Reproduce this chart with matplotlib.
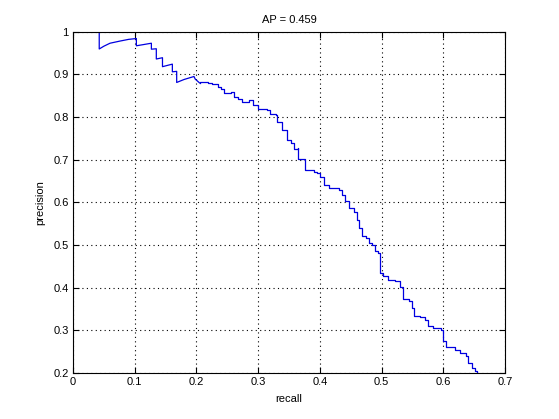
import matplotlib
matplotlib.use("Agg")
import matplotlib.pyplot as plt

recall = [0.0425, 0.0425, 0.050, 0.060, 0.076, 0.090, 0.1027, 0.1027, 0.115, 0.127, 0.127, 0.135, 0.135,
          0.145, 0.145, 0.161, 0.161, 0.168, 0.168, 0.180, 0.196, 0.198, 0.198, 0.205, 0.205,
          0.218, 0.226, 0.235, 0.240, 0.245, 0.256, 0.261, 0.267, 0.274, 0.285, 0.292, 0.292,
          0.299, 0.315, 0.320, 0.329, 0.331, 0.338, 0.346, 0.353, 0.358, 0.365, 0.365,
          0.374, 0.376, 0.390, 0.396, 0.401, 0.406, 0.415, 0.431, 0.436, 0.441, 0.447, 0.456,
          0.460, 0.464, 0.468, 0.474, 0.479, 0.484, 0.489, 0.494, 0.498, 0.498,
          0.503, 0.511, 0.522, 0.530, 0.534, 0.535, 0.544, 0.549, 0.553, 0.562, 0.570,
          0.576, 0.584, 0.597, 0.599, 0.605, 0.619, 0.627, 0.636, 0.640, 0.646, 0.652, 0.655]
precision = [1.000, 0.9595, 0.966, 0.973, 0.978, 0.982, 0.984, 0.967, 0.970, 0.973, 0.959, 0.960, 0.936,
             0.939, 0.918, 0.924, 0.906, 0.907, 0.881, 0.888, 0.895, 0.889, 0.889, 0.880, 0.881,
             0.879, 0.877, 0.871, 0.865, 0.856, 0.858, 0.848, 0.842, 0.836, 0.840, 0.840, 0.828,
             0.818, 0.817, 0.807, 0.805, 0.789, 0.770, 0.746, 0.739, 0.725, 0.727, 0.701,
             0.701, 0.676, 0.670, 0.668, 0.660, 0.641, 0.633, 0.629, 0.618, 0.602, 0.586, 0.578,
             0.559, 0.540, 0.520, 0.516, 0.504, 0.500, 0.485, 0.481, 0.482, 0.434,
             0.428, 0.419, 0.415, 0.401, 0.387, 0.373, 0.368, 0.352, 0.334, 0.331, 0.325,
             0.311, 0.305, 0.301, 0.274, 0.261, 0.253, 0.247, 0.239, 0.223, 0.212, 0.204, 0.200]

xticks = [0, 0.1, 0.2, 0.3, 0.4, 0.5, 0.6, 0.7]
xticklabels = ["0", "0.1", "0.2", "0.3", "0.4", "0.5", "0.6", "0.7"]
yticks = [0.2, 0.3, 0.4, 0.5, 0.6, 0.7, 0.8, 0.9, 1.0]
yticklabels = ["0.2", "0.3", "0.4", "0.5", "0.6", "0.7", "0.8", "0.9", "1"]

split = 23  # curved head, staircase tail

plt.rcParams['font.family'] = ['Liberation Sans', 'DejaVu Sans']
fig = plt.figure(figsize=(5.59, 4.19), dpi=100)
ax = fig.add_axes([73/559, 1 - 373/419, (505 - 73)/559, (373 - 31.7)/419])
ax.plot(recall[:split + 1], precision[:split + 1], color='#0000e0', linewidth=0.9)
ax.plot(recall[split:], precision[split:], color='#0000e0', linewidth=0.9, drawstyle='steps-post')
ax.set_xlim(0, 0.7)
ax.set_ylim(0.2, 1.0)
ax.set_xticks(xticks)
ax.set_xticklabels(xticklabels)
ax.set_yticks(yticks)
ax.set_yticklabels(yticklabels)
ax.tick_params(direction='in', length=4, width=0.8, labelsize=8, top=True, right=True, pad=3)
ax.grid(True, color='black', linestyle=(0, (1, 3)), linewidth=0.8)
for s in ax.spines.values():
    s.set_linewidth(0.8)
ax.set_title("AP = 0.459", fontsize=8, pad=6)
ax.set_xlabel("recall", fontsize=8, labelpad=5)
ax.set_ylabel("precision", fontsize=8, labelpad=6)
fig.savefig("out.png", dpi=100)
